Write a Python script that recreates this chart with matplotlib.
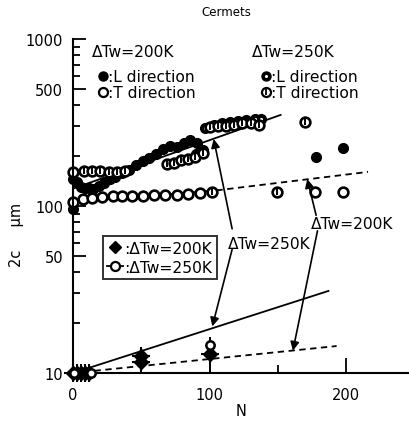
import matplotlib
matplotlib.use("Agg")
import matplotlib.pyplot as plt
from matplotlib.lines import Line2D
import numpy as np

plt.rcParams['font.family'] = ['DejaVu Sans']

# ---- data (upper group, crack length 2c) ----
L200_N = [0, 0, 3, 6, 9, 12, 15, 19, 23, 27, 31, 36, 41, 46, 51, 56, 61, 66, 71, 76, 81, 86, 91, 178, 198]
L200_v = [96, 145, 140, 130, 128, 128, 127, 132, 138, 145, 150, 158, 165, 175, 185, 195, 205, 218, 228, 225, 240, 250, 238, 196, 222]

T200_N = [0, 7, 14, 21, 29, 36, 43, 51, 59, 67, 76, 84, 93, 177, 198]
T200_v = [106, 110, 112, 113, 114, 114, 115, 115, 116, 116, 117, 118, 119, 121, 122]

L250_N = [97, 103, 109, 115, 121, 127, 133, 138, 90, 95]
L250_v = [292, 305, 312, 318, 322, 328, 330, 332, 205, 215]

T250_N = [0, 8, 14, 20, 26, 32, 38, 69, 74, 79, 84, 89, 95, 100, 106, 112, 118, 124, 130, 136, 170, 102, 149]
T250_v = [160, 162, 162, 161, 160, 160, 162, 178, 182, 188, 192, 196, 207, 298, 300, 302, 305, 312, 315, 305, 318, 121, 122]

# ---- data (lower group) ----
low200_N = [0, 3, 6, 9, 12, 50, 50, 100]
low200_v = [10, 10, 10, 10, 10, 11.6, 12.6, 13.0]
low250_N = [1, 13, 100]
low250_v = [10, 10, 14.7]
err_N = [50, 100]
err_lo = [10, 10]
err_hi = [13.6, 16.4]

# ---- fitted lines ----
upL_N = [0, 152];   upL_v = [127, 351]
upT_sN = [0, 105];  upT_sv = [106, 124]
upT_dN = [105, 216]; upT_dv = [124, 160]
lowS_N = [0, 187];  lowS_v = [10, 31]
lowD_N = [0, 193];  lowD_v = [10, 14.5]

W, H = 409, 427
fig = plt.figure(figsize=(W/100, H/100), dpi=100)
ax = fig.add_axes([73/W, 53/H, 336/W, 334/H])
ax.set_yscale('log')
ax.set_ylim(10, 1000)
ax.set_xlim(0, 246)

lw = 1.3
dash = (0, (3.5, 2.5))
ax.plot(upL_N, upL_v, color='black', lw=lw)
ax.plot(upT_sN, upT_sv, color='black', lw=lw)
ax.plot(upT_dN, upT_dv, color='black', lw=lw, linestyle=dash)
ax.plot(lowS_N, lowS_v, color='black', lw=lw, clip_on=False)
ax.plot(lowD_N, lowD_v, color='black', lw=lw, linestyle=dash, clip_on=False)

ms = 7
mew = 1.9
ax.plot(L200_N, L200_v, 'o', color='black', ms=ms, clip_on=False)
ax.plot(T200_N, T200_v, 'o', mfc='white', mec='black', mew=mew, ms=ms, clip_on=False)
ax.plot(L250_N, L250_v, 'o', color='black', ms=ms, clip_on=False)
ax.plot(L250_N, L250_v, '.', color='white', ms=2.5, clip_on=False)
ax.plot(T250_N, T250_v, 'o', mfc='white', mec='black', mew=mew, ms=ms, clip_on=False)
ax.plot(T250_N, T250_v, '|', color='black', mew=1.4, ms=5, clip_on=False)

# lower group
ax.vlines(err_N, err_lo, err_hi, color='black', lw=1.4)
ax.plot(low200_N, low200_v, 'D', color='black', ms=7.5, clip_on=False, zorder=4)
ax.plot(low200_N, low200_v, '+', color='black', ms=13, mew=1.5, clip_on=False, zorder=4)
ax.plot(low250_N, low250_v, 'o', mfc='white', mec='black', mew=1.8, ms=6, clip_on=False, zorder=5)

# spines and ticks
for s in ['top', 'right']:
    ax.spines[s].set_visible(False)
for s in ['left', 'bottom']:
    ax.spines[s].set_linewidth(1.5)
ax.set_yticks([10, 50, 100, 500, 1000])
ax.set_yticklabels(['10', '50', '100', '500', '1000'])
ax.set_yticks([20, 30, 40, 60, 70, 80, 90, 200, 300, 400, 600, 700, 800, 900], minor=True)
ax.yaxis.set_minor_formatter(matplotlib.ticker.NullFormatter())
ax.set_xticks([0, 100, 200])
ax.set_xticks([50, 150], minor=True)
ax.tick_params(which='both', direction='in', labelsize=10.5, width=1.3)
ax.tick_params(axis='y', which='major', length=9, pad=7)
ax.tick_params(axis='y', which='minor', length=5)
ax.tick_params(axis='x', which='major', length=11, pad=10)
ax.tick_params(axis='x', which='minor', length=6)

ax.set_xlabel('N', fontsize=10.5, labelpad=1)
ax.set_ylabel('2c     μm', fontsize=10.5)
ax.yaxis.set_label_coords(-0.146, 0.415)
fig.text(226/W, 1 - 13/H, 'Cermets', ha='center', va='center', fontsize=8.5)

# top legend text
fs = 11.2
tA = ax.transAxes
ax.text(0.056, 0.964, 'ΔTw=200K', transform=tA, fontsize=fs, va='center', ha='left')
ax.text(0.533, 0.964, 'ΔTw=250K', transform=tA, fontsize=fs, va='center', ha='left')
ax.plot([0.089], [0.889], 'o', color='black', ms=6.5, transform=tA)
ax.plot([0.089], [0.841], 'o', mfc='white', mec='black', mew=1.6, ms=6.5, transform=tA)
ax.text(0.105, 0.889, ':L direction', transform=tA, fontsize=fs, va='center', ha='left')
ax.text(0.105, 0.841, ':T direction', transform=tA, fontsize=fs, va='center', ha='left')
ax.plot([0.574], [0.889], 'o', color='black', ms=6.5, transform=tA)
ax.plot([0.574], [0.889], '.', color='white', ms=2.5, transform=tA)
ax.plot([0.574], [0.841], 'o', mfc='white', mec='black', mew=1.6, ms=6.5, transform=tA)
ax.plot([0.574], [0.841], '|', color='black', mew=1.3, ms=4.5, transform=tA)
ax.text(0.59, 0.889, ':L direction', transform=tA, fontsize=fs, va='center', ha='left')
ax.text(0.59, 0.841, ':T direction', transform=tA, fontsize=fs, va='center', ha='left')

# lower legend
h1 = Line2D([], [], marker='D', color='black', ms=6.5, linestyle='none')
h2 = Line2D([], [], marker='o', mfc='white', mec='black', mew=1.6, ms=6.5, color='black', linestyle='-', lw=1.3)
leg = ax.legend([h1, h2], [':ΔTw=200K', ':ΔTw=250K'], loc='lower left',
                bbox_to_anchor=(0.088, 0.28), fontsize=fs, frameon=True, fancybox=False,
                edgecolor='black', handlelength=1.0, handletextpad=0.1, borderpad=0.3,
                labelspacing=0.25, borderaxespad=0)
leg.get_frame().set_linewidth(1.4)

# annotations with arrows
ap = dict(arrowstyle='-|>', color='black', lw=1.2, mutation_scale=13, shrinkA=0, shrinkB=0)
ax.text(204, 79, 'ΔTw=200K', fontsize=fs, ha='center', va='center')
ax.annotate('', xy=(171.5, 145), xytext=(178, 88), arrowprops=ap)
ax.annotate('', xy=(161, 13.6), xytext=(179, 71), arrowprops=ap)
ax.text(143.6, 60, 'ΔTw=250K', fontsize=fs, ha='center', va='center')
ax.annotate('', xy=(103, 252), xytext=(116.5, 73), arrowprops=ap)
ax.annotate('', xy=(102, 19), xytext=(116.5, 55), arrowprops=ap)

fig.savefig('out.png', dpi=100)
